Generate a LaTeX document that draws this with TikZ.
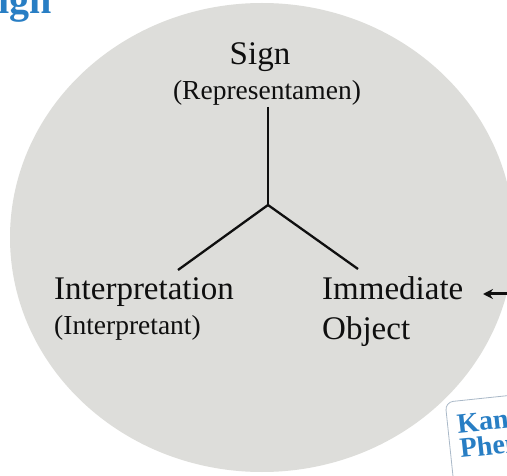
\documentclass[tikz,border=0pt]{standalone}
\usepackage{fontspec}
\setmainfont{Liberation Serif}
\usetikzlibrary{arrows.meta}
\definecolor{discgray}{RGB}{221,221,218}
\definecolor{titleblue}{RGB}{40,126,196}
\definecolor{boxedge}{RGB}{170,185,200}
\definecolor{ink}{RGB}{15,15,15}
\begin{document}
\begin{tikzpicture}[x=1pt,y=-1pt,
  bigtext/.style={font=\fontsize{33}{36}\selectfont, text=ink, inner sep=0pt},
  smalltext/.style={font=\fontsize{27.5}{30}\selectfont, text=ink, inner sep=0pt},
  branch/.style={draw=ink, line width=2.3pt},
  note/.style={font=\bfseries\fontsize{28}{30}\selectfont, text=titleblue, inner sep=0pt, anchor=base west}]
  \useasboundingbox (0,0) rectangle (507,476);
  \clip (0,0) rectangle (507,476);
  \fill[white] (0,0) rectangle (507,476);

  % title, running off the top-left edge
  \node[font=\bfseries\fontsize{40}{44}\selectfont, text=titleblue, inner sep=0pt, anchor=base west] (title) at (-24,14) {Sign};

  % the grey disc
  \fill[discgray] (262,237.5) ellipse [x radius=252, y radius=234.5];

  % the three corners
  \node[bigtext, anchor=base] (sign) at (260,65) {Sign};
  \node[smalltext, anchor=base] (rep) at (267,100) {(Representamen)};
  \node[bigtext, anchor=base west] (interp) at (54,300) {Interpretation};
  \node[smalltext, anchor=base west] (interpt) at (54,335) {(Interpretant)};
  \node[bigtext, anchor=base west] (imm) at (322,300) {Immediate};
  \node[bigtext, anchor=base west] (obj) at (322,340) {Object};

  % the branching lines
  \coordinate (top) at (268,107);
  \coordinate (hub) at (268,205);
  \coordinate (leftend) at (178,270);
  \coordinate (rightend) at (358,269);
  \draw[branch] (top) -- (hub);
  \draw[branch, line join=miter] (leftend) -- (hub) -- (rightend);

  % arrow coming in from the right
  \coordinate (arrowtail) at (510,294);
  \coordinate (arrowtip) at (483,294);
  \draw[ink, line width=3pt, -{Stealth[length=10pt,width=10pt]}] (arrowtail) -- (arrowtip);

  % note card at the lower right, slightly tilted
  \begin{scope}[rotate around={6:(447,400)}, transform shape]
    \draw[boxedge, fill=white, line width=0.8pt, rounded corners=8pt] (445,402) rectangle (620,520);
    \node[note] (kant) at (454.5,434) {Kant};
    \node[note] (phen) at (454.5,459) {Phen};
  \end{scope}
\end{tikzpicture}
\end{document}
